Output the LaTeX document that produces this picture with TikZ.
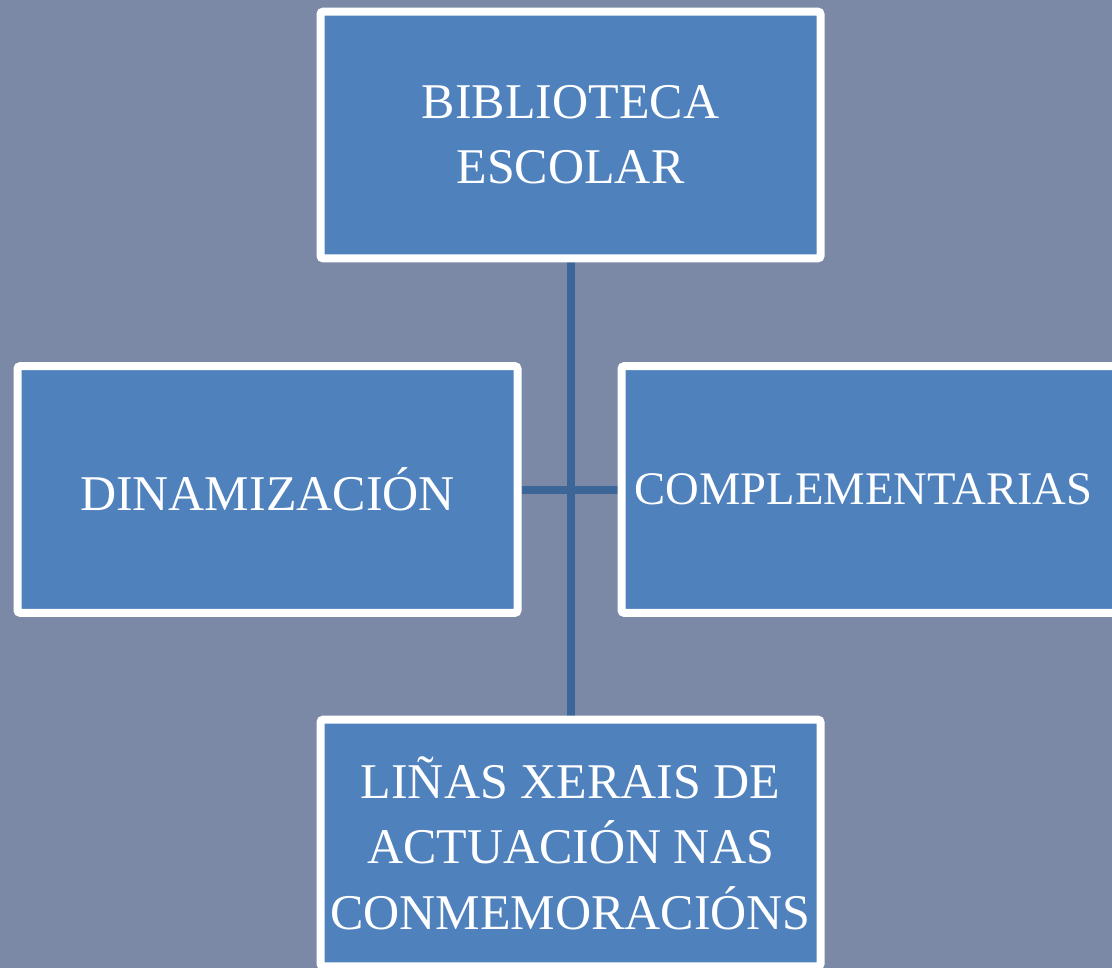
\documentclass[tikz,border=0pt]{standalone}
\usepackage{fontspec}
\setmainfont{Liberation Serif}
\usetikzlibrary{backgrounds}
\definecolor{bgcol}{HTML}{7B89A7}
\definecolor{boxfill}{HTML}{4F81BD}
\definecolor{linkcol}{HTML}{3C6698}
\tikzset{
  orgbox/.style={draw=white, line width=6pt, fill=boxfill, rounded corners=2pt,
    minimum width=375pt, minimum height=185pt, inner sep=0pt,
    text=white, align=center, font=\fontsize{37.5}{49}\selectfont},
  link/.style={draw=linkcol, line width=6pt}
}
\begin{document}
\begin{tikzpicture}[x=0.75pt,y=-0.75pt]
\useasboundingbox (0,0) rectangle (1112,968);
\node[orgbox] (top) at (570.5,135) {BIBLIOTECA\\ESCOLAR};
\node[orgbox] (left) at (267.5,489.5) {DINAMIZACIÓN};
\node[orgbox, font=\fontsize{35}{49}\selectfont, text width=360pt] (right) at (871.5,489.5) {\hspace*{-12pt}COMPLEMENTARIAS};
\node[orgbox] (bot) at (570.5,843) {LIÑAS XERAIS DE\\ACTUACIÓN NAS\\CONMEMORACIÓNS};
\begin{scope}[on background layer]
  \fill[bgcol] (0,0) rectangle (1112,968);
  \draw[link] (top.south) -- (bot.north);
  \draw[link] (left.east) -- (right.west);
\end{scope}
\end{tikzpicture}
\end{document}
